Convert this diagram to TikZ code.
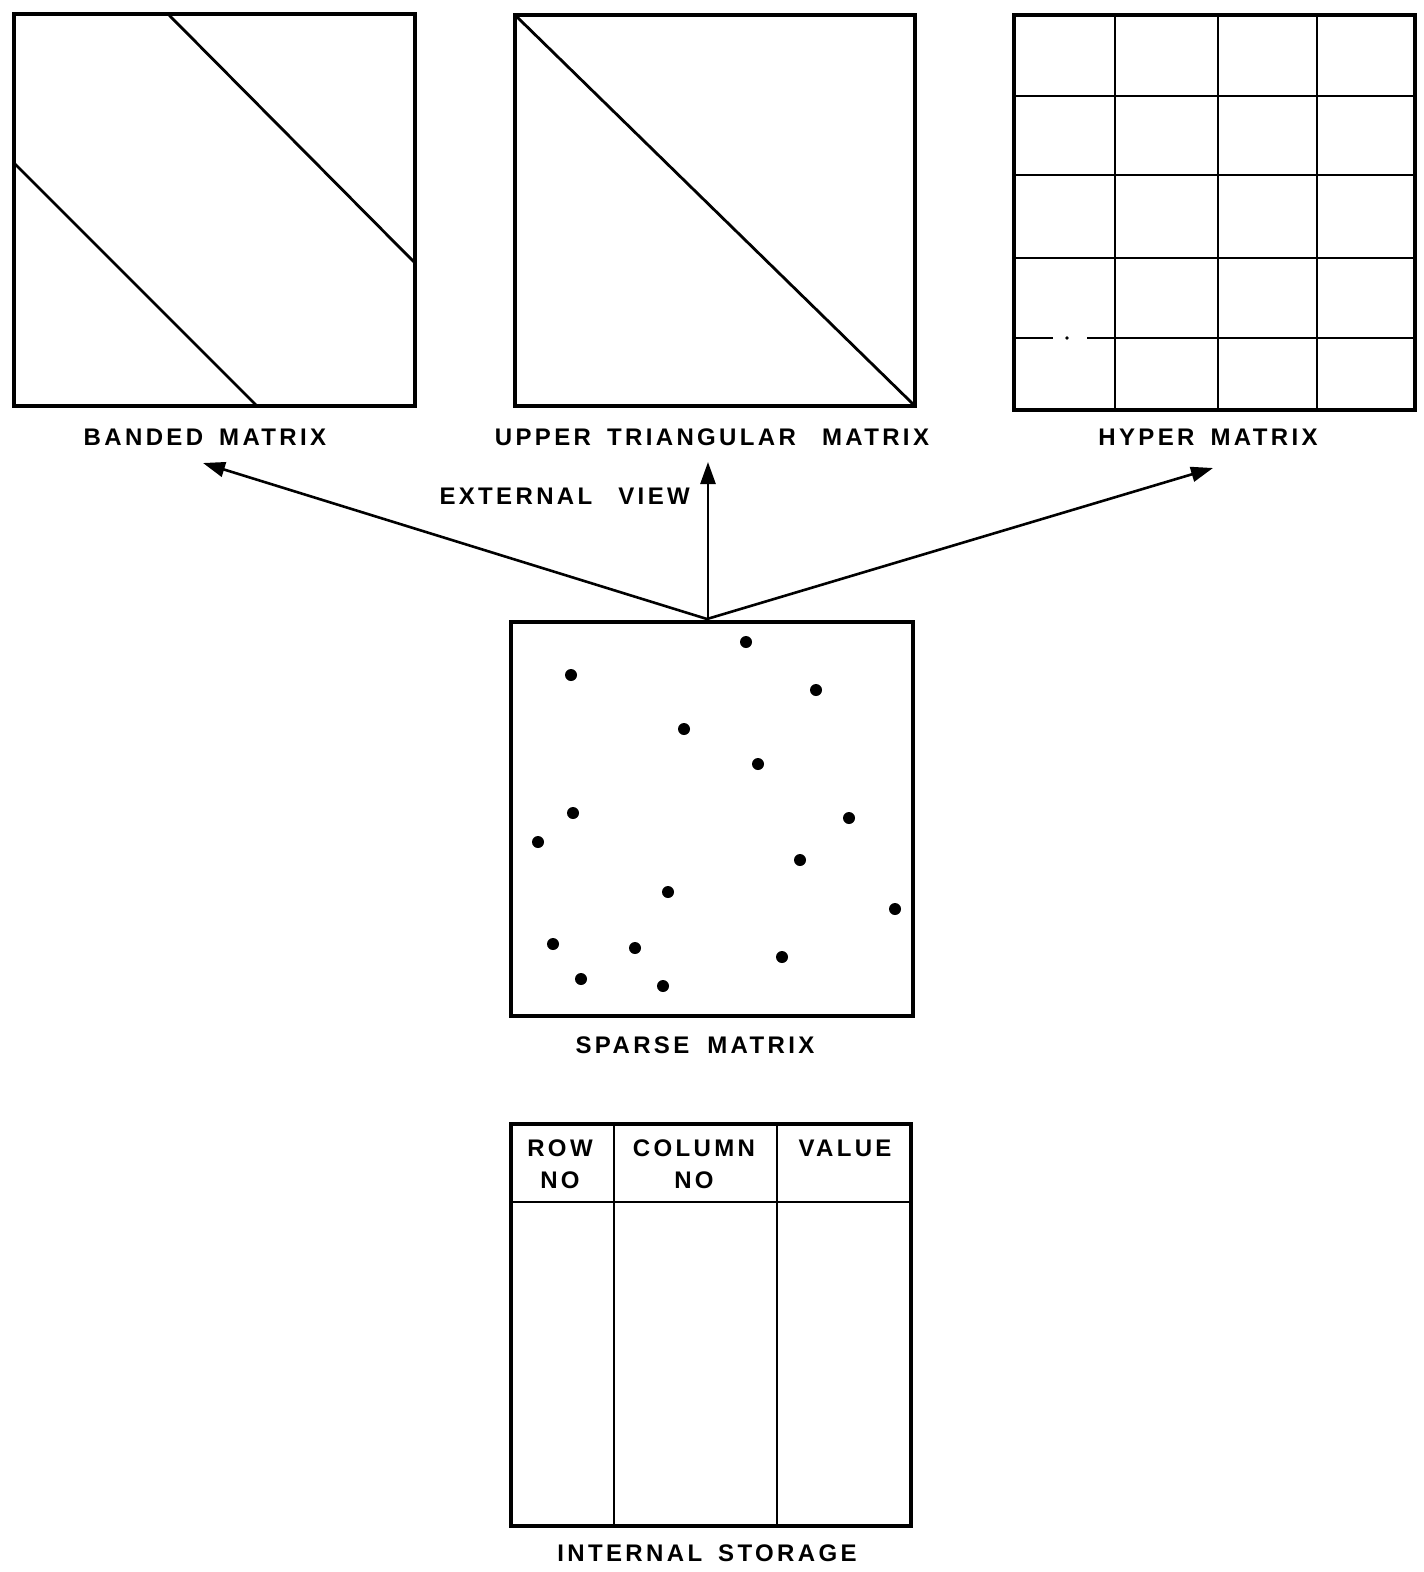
\documentclass[tikz,border=0pt]{standalone}
\usepackage{fontspec}
\setmainfont{Liberation Sans}[LetterSpace=14,UprightFont=* Bold]
\usetikzlibrary{arrows.meta,calc}
\begin{document}
\begin{tikzpicture}[x=1pt,y=-1pt,
  mbox/.style={draw, line width=4.5pt, inner sep=0pt, outer sep=0pt},
  inl/.style={line width=2.8pt},
  lbl/.style={font=\fontsize{24}{32}\selectfont, inner sep=0pt, align=center},
  arr/.style={line width=2.6pt, -{Triangle[length=22pt,width=15pt]}},
  sdot/.style={circle, fill, inner sep=0pt, minimum size=12pt}]
\useasboundingbox[fill=white] (0,0) rectangle (1424,1572);

% boxes
\node[mbox, minimum width=401pt, minimum height=392pt] (banded) at (214.5,210) {};
\node[mbox, minimum width=400pt, minimum height=391pt] (upper) at (715,210.5) {};
\node[mbox, minimum width=401pt, minimum height=395pt] (hyper) at (1214.5,212.5) {};
\node[mbox, minimum width=402pt, minimum height=394pt] (sparse) at (712,819) {};
\node[mbox, minimum width=400pt, minimum height=402pt] (store) at (711,1325) {};

% banded lines
\draw[inl] ($(banded.north west)+(154,0)$) -- ($(banded.north east)+(0,249)$);
\draw[inl] ($(banded.north west)+(0,149)$) -- ($(banded.south west)+(243,0)$);

% upper triangular
\draw[inl] (upper.north west) -- (upper.south east);

% hyper grid
\foreach \dx in {101,204,303}
  \draw[inl] ($(hyper.north west)+(\dx,0)$) -- ($(hyper.south west)+(\dx,0)$);
\foreach \dy in {81,160,243}
  \draw[inl] ($(hyper.north west)+(0,\dy)$) -- ($(hyper.north east)+(0,\dy)$);
\draw[inl] ($(hyper.north west)+(0,323)$) -- ($(hyper.north west)+(39,323)$);
\fill ($(hyper.north west)+(53,323)$) circle (1.8pt);
\draw[inl] ($(hyper.north west)+(73,323)$) -- ($(hyper.north east)+(0,323)$);

% storage table
\draw[inl] ($(store.north west)+(0,78)$) -- ($(store.north east)+(0,78)$);
\draw[inl] ($(store.north west)+(103,0)$) -- ($(store.south west)+(103,0)$);
\draw[inl] ($(store.north west)+(266,0)$) -- ($(store.south west)+(266,0)$);

% sparse dots
\foreach \p [count=\i] in {(746,642),(571,675),(816,690),(684,729),(758,764),(573,813),(849,818),(538,842),(800,860),(668,892),(895,909),(553,944),(635,948),(782,957),(581,979),(663,986)}
  \node[sdot] (d\i) at \p {};

% labels
\node[lbl] (lbanded) at (205,437) {BANDED\hspace{6pt} MATRIX};
\node[lbl] (lupper) at (712,437) {UPPER\hspace{6pt} TRIANGULAR\hspace{16pt} MATRIX};
\node[lbl] (lhyper) at (1208,437) {HYPER\hspace{6pt} MATRIX};
\node[lbl, anchor=east] (lext) at (690,496) {EXTERNAL\hspace{16pt} VIEW};
\node[lbl] (lsparse) at (695,1045) {SPARSE\hspace{8pt} MATRIX};
\node[lbl] (lstore) at (707,1553) {INTERNAL\hspace{6pt} STORAGE};
\node[lbl] (hrow) at (560,1164) {ROW\\NO};
\node[lbl] (hcol) at (694,1164) {COLUMN\\NO};
\node[lbl] (hval) at (845,1148) {VALUE};

% arrows
\coordinate (src) at ($(sparse.north)+(-5,-3)$);
\coordinate (srcv) at ($(sparse.north)+(-4,0)$);
\coordinate (tipL) at (203,463);
\coordinate (tipU) at (708,462);
\coordinate (tipH) at (1213,468);
\draw[arr] (src) -- (tipL);
\draw[arr] (srcv) -- (tipU);
\draw[arr] (src) -- (tipH);
\end{tikzpicture}
\end{document}
